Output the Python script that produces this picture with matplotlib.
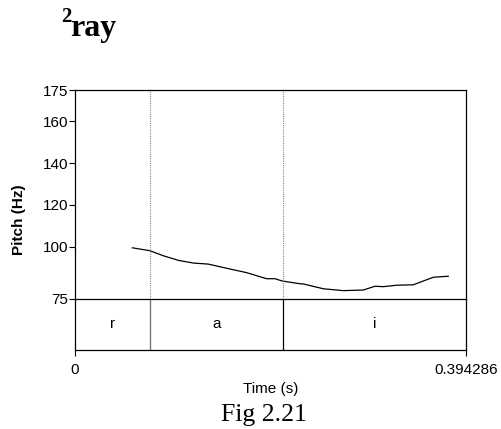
import matplotlib
matplotlib.use('Agg')
import matplotlib.pyplot as plt
import numpy as np

plt.rcParams['font.family'] = ['Liberation Sans', 'DejaVu Sans']

# pitch track (time in s, pitch in Hz)
time_s = [0.0578, 0.0756, 0.0890, 0.1042, 0.1193, 0.1344, 0.1530, 0.1731,
          0.1933, 0.2017, 0.2090, 0.2269, 0.2302, 0.2504, 0.2706, 0.2907,
          0.3025, 0.3109, 0.3244, 0.3411, 0.3512, 0.3613, 0.3764]
pitch_hz = [99.5, 98.1, 95.7, 93.5, 92.2, 91.7, 89.7, 87.6,
            84.7, 84.7, 83.6, 82.3, 82.2, 79.9, 79.0, 79.3,
            81.1, 80.9, 81.6, 81.8, 83.6, 85.4, 85.9]

# segment tier
seg_labels = ['r', 'a', 'i']
seg_bounds = [0.0, 0.0756, 0.2094, 0.394286]
t_end = 0.394286

y_ticks = [75, 100, 120, 140, 160, 175]

fig = plt.figure(figsize=(5.01, 4.29), dpi=100)
left, right = 75 / 501, 466 / 501
y_top, y_mid, y_bot = 1 - 90 / 429, 1 - 299 / 429, 1 - 350 / 429

tier = fig.add_axes([left, y_bot, right - left, y_mid - y_bot])
ax = fig.add_axes([left, y_mid, right - left, y_top - y_mid], sharex=tier)
tier.patch.set_visible(False)
ax.patch.set_visible(False)

ax.plot(time_s, pitch_hz, color='black', lw=0.9)
for b in seg_bounds[1:-1]:
    ax.axvline(b, color='#888888', lw=0.8, ls=(0, (1, 1)))
ax.set_xlim(0, t_end)
ax.set_ylim(75, 175)
ax.set_yticks(y_ticks)
ax.set_yticklabels([str(v) for v in y_ticks], fontsize=11)
ax.tick_params(axis='y', direction='out', length=4, width=0.8, pad=1)
ax.tick_params(axis='x', bottom=False, labelbottom=False)
for s in ax.spines.values():
    s.set_linewidth(0.9)
    s.set_color('black')

tier.set_ylim(0, 1)
tier.set_yticks([])
tier.spines['top'].set_visible(False)
for s in ['left', 'right', 'bottom']:
    tier.spines[s].set_linewidth(0.9)
tier.axvline(seg_bounds[1], color='#777777', lw=1.0)
tier.axvline(seg_bounds[2], color='black', lw=0.9)
for lab, a, b in zip(seg_labels, seg_bounds[:-1], seg_bounds[1:]):
    tier.text((a + b) / 2, 0.5, lab, ha='center', va='center', fontsize=11)
tier.set_xticks([0, t_end])
tier.set_xticklabels(['0', '0.394286'], fontsize=11)
tier.tick_params(axis='x', direction='out', length=4, width=0.8, pad=5)
tier.set_xlabel('Time (s)', fontsize=11, labelpad=4)

fig.text(19 / 501, 1 - 220 / 429, 'Pitch (Hz)', rotation=90, ha='center', va='center',
         fontsize=11, fontweight='bold')

fig.text(61 / 501, 1 - 22 / 429, '2', family='Liberation Serif', fontweight='bold',
         fontsize=15, va='baseline', ha='left')
fig.text(70 / 501, 1 - 36 / 429, 'ray', family='Liberation Serif', fontweight='bold',
         fontsize=23, va='baseline', ha='left')
fig.text(264 / 501, 1 - 421 / 429, 'Fig 2.21', family='Liberation Serif',
         fontsize=18.5, va='baseline', ha='center')

fig.savefig('out.png', dpi=100)
